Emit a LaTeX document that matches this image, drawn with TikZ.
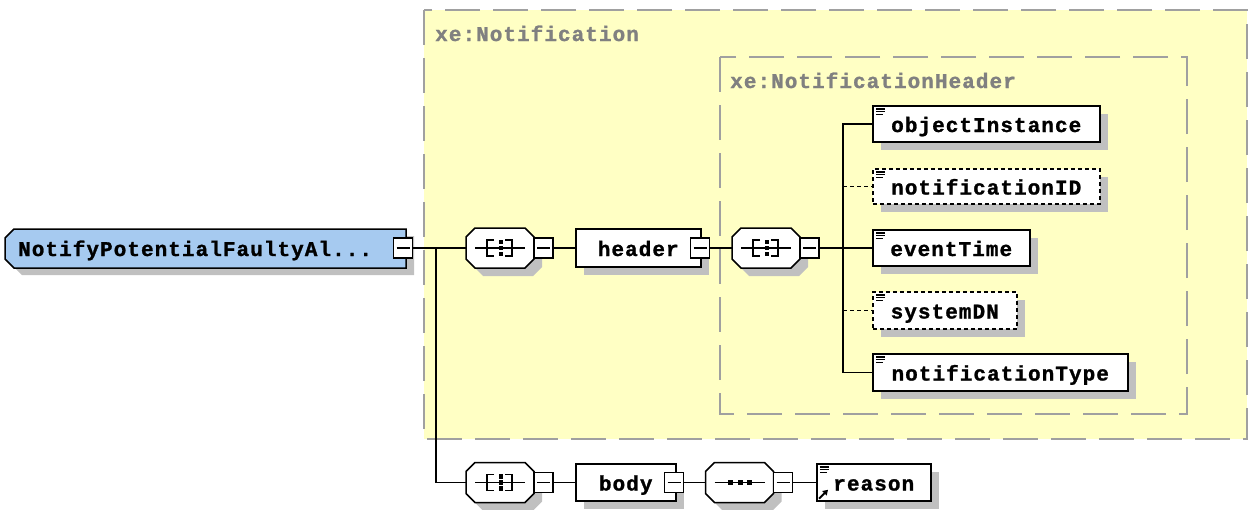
\documentclass[tikz,border=0pt]{standalone}
\usepackage{fontspec}
\usetikzlibrary{shadows,arrows.meta}
\newfontfamily\xsfam{Liberation Mono}[LetterSpace=5, FakeBold=1.2]
\newcommand\xsfont{\xsfam\bfseries\fontsize{21pt}{23pt}\selectfont}
\definecolor{yel}{HTML}{FFFFC4}
\definecolor{rootblue}{HTML}{A6CAF0}
\definecolor{shadowc}{HTML}{C0C0C0}
\definecolor{dashgray}{HTML}{A0A0A0}
\definecolor{labgray}{HTML}{808080}
\newcommand\octpath[2]{(#1-34,#2-11) -- (#1-25,#2-20) -- (#1+25,#2-20) -- (#1+34,#2-11) -- (#1+34,#2+11) -- (#1+25,#2+20) -- (#1-25,#2+20) -- (#1-34,#2+11) -- cycle}
\newcommand\rootpath[2]{(5+#1,238+#2) -- (14+#1,229+#2) -- (406+#1,229+#2) -- (406+#1,268+#2) -- (14+#1,268+#2) -- (5+#1,259+#2) -- cycle}
\begin{document}
\begin{tikzpicture}[x=1pt,y=-1pt,
  groupbox/.style={draw=dashgray, line width=2pt, dash pattern=on 35pt off 13pt, fill=yel},
  grouplabel/.style={anchor=base west, inner sep=0pt, font=\xsfont, text=labgray},
  conn/.style={line width=1.5pt, draw=black},
  optconn/.style={conn, dash pattern=on 4pt off 3pt},
  shadowed/.style={drop shadow={shadow xshift=8pt, shadow yshift=-8pt, fill=shadowc, opacity=1}},
  elem/.style={draw, line width=1.5pt, fill=white, inner sep=0pt, anchor=west, text height=16pt, text depth=0pt, font=\xsfont, shadowed},
  elemicon/.style={elem, path picture={
      \draw[line width=1.3pt, solid] ([xshift=3pt,yshift=-3pt]path picture bounding box.north west) -- ++(9pt,0pt);
      \draw[line width=1.3pt, solid] ([xshift=3pt,yshift=-5.7pt]path picture bounding box.north west) -- ++(9pt,0pt);
      \draw[line width=1.3pt, solid] ([xshift=3pt,yshift=-8.4pt]path picture bounding box.north west) -- ++(7pt,0pt);}},
  optelem/.style={elemicon, dash pattern=on 4pt off 3pt},
  minusbox/.style={draw, fill=white, line width=1.3pt, minimum width=19pt, minimum height=20pt, inner sep=0pt,
      path picture={\draw[line width=1.3pt, solid] ([xshift=3pt]path picture bounding box.west) -- ([xshift=-3pt]path picture bounding box.east);}},
  compall/.pic={
    \fill[shadowc] \octpath{8}{8};
    \draw[line width=1.5pt, fill=white] \octpath{0}{0};
    \node[inner sep=0pt, minimum width=68pt, minimum height=40pt] (-box) at (0,0) {};
    \draw[line width=1.5pt] (-25,0) -- (25,0);
    \draw[line width=1.5pt] (-6,-8) -- (-13,-8) -- (-13,8) -- (-6,8);
    \draw[line width=1.5pt] (5,-8) -- (12,-8) -- (12,8) -- (5,8);
    \foreach \d in {-6,0,6} \fill (-1,\d-2.3) rectangle (3,\d+2.3);
    \node[minusbox] (-m) at (43.5,0) {};
  },
  compseq/.pic={
    \fill[shadowc] \octpath{8}{8};
    \draw[line width=1.5pt, fill=white] \octpath{0}{0};
    \node[inner sep=0pt, minimum width=68pt, minimum height=40pt] (-box) at (0,0) {};
    \draw[line width=1.5pt] (-25,0) -- (25,0);
    \foreach \d in {-9,0.5,10} \fill (\d-2.5,-2.5) rectangle (\d+2.5,2.5);
    \node[minusbox] (-m) at (43.5,0) {};
  }
]
\useasboundingbox (0,0) rectangle (1249,509);
% group boxes
\draw[groupbox] (424,10) rectangle (1247,439);
\node[grouplabel] (lblN) at (435,41) {xe:Notification};
\draw[groupbox] (720,57) rectangle (1187,414);
\node[grouplabel] (lblH) at (730,88) {xe:NotificationHeader};
% root
\fill[shadowc] \rootpath{8}{7};
\draw[line width=1.5pt, fill=rootblue] \rootpath{0}{0};
\node[anchor=base west, inner sep=0pt, font=\xsfont] (root) at (18,256) {NotifyPotentialFaultyAl...};
\node[minusbox] (rootm) at (403,248) {};
% header branch
\pic (h1) at (500,248) {compall};
\node[elem, minimum width=125pt, minimum height=38pt] (header) at (575,248) {header};
\node[minusbox] (headerm) at (700,248) {};
\pic (h2) at (766,248) {compall};
\node[elemicon, minimum width=227pt, minimum height=36pt] (oi) at (872,124) {objectInstance};
\node[optelem, minimum width=227pt, minimum height=35pt] (nid) at (872,186.5) {notificationID};
\node[elemicon, minimum width=157pt, minimum height=36pt] (et) at (872,248) {eventTime};
\node[optelem, minimum width=144pt, minimum height=37pt] (sdn) at (872,310.5) {systemDN};
\node[elemicon, minimum width=255pt, minimum height=37pt] (nt) at (872,372.5) {notificationType};
% body branch
\pic (b1) at (500,482.5) {compall};
\node[elem, minimum width=100pt, minimum height=37pt] (body) at (575,482.5) {body};
\node[minusbox] (bodym) at (674,482.5) {};
\pic (s1) at (739.5,482.5) {compseq};
\node[elemicon, minimum width=114pt, minimum height=37pt] (reason) at (816,482.5) {reason};
\draw[line width=2pt, -{Triangle[length=5pt,width=6pt]}] ([shift={(3pt,3pt)}]reason.south west) -- ++(9pt,9pt);
% connectors
\coordinate (br1) at (436,248);
\draw[conn] (rootm.east) -- (h1-box.west);
\draw[conn] (br1) |- (b1-box.west);
\draw[conn] (h1-m.east) -- (header.west);
\draw[conn] (headerm.east) -- (h2-box.west);
\coordinate (br2) at (843,248);
\draw[conn] (h2-m.east) -- (et.west);
\draw[conn] (oi.west) -| (br2) |- (nt.west);
\draw[optconn] (br2 |- nid.west) -- (nid.west);
\draw[optconn] (br2 |- sdn.west) -- (sdn.west);
\draw[conn] (b1-m.east) -- (body.west);
\draw[conn] (bodym.east) -- (s1-box.west);
\draw[conn] (s1-m.east) -- (reason.west);
\end{tikzpicture}
\end{document}
